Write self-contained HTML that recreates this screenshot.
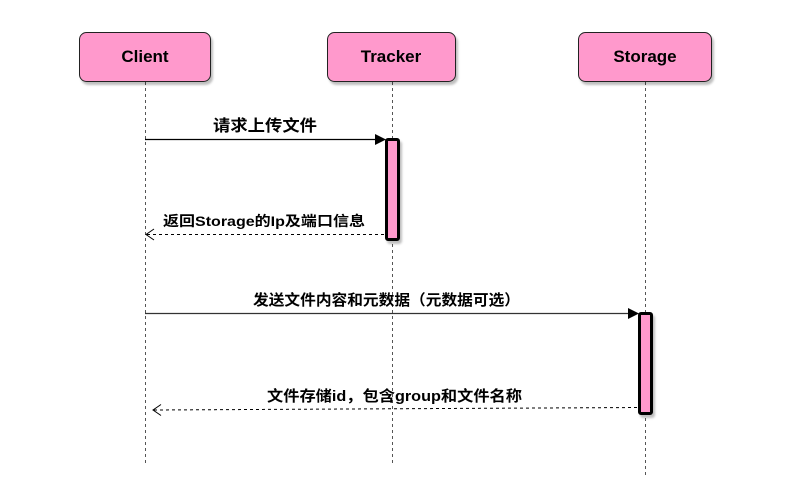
<!DOCTYPE html>
<html><head><meta charset="utf-8"><style>
html,body{margin:0;padding:0;background:#fff;width:811px;height:494px;overflow:hidden}
text{font-family:"Liberation Sans","Noto Sans CJK SC",sans-serif;font-weight:bold;fill:#000}
</style></head><body>
<svg width="811" height="494" xmlns="http://www.w3.org/2000/svg">
<defs>
<filter id="sh" x="-20%" y="-20%" width="140%" height="140%"><feDropShadow dx="2" dy="3" stdDeviation="1" flood-color="#000" flood-opacity="0.25"/></filter>
</defs>
<!-- lifelines -->
<g stroke="#555" stroke-width="1" stroke-dasharray="3,3" fill="none">
<line x1="145.5" y1="82" x2="145.5" y2="463"/>
<line x1="392.5" y1="82" x2="392.5" y2="464"/>
<line x1="645.5" y1="82" x2="645.5" y2="478"/>
</g>
<!-- boxes -->
<g fill="#ff99cc" stroke="#222" stroke-width="1" filter="url(#sh)">
<rect x="79.5" y="32.5" width="131" height="49" rx="7"/>
<rect x="327.5" y="32.5" width="128" height="49" rx="7"/>
<rect x="578.5" y="32.5" width="133" height="49" rx="7"/>
</g>
<text x="145" y="62" font-size="17" text-anchor="middle">Client</text>
<text x="391" y="62" font-size="17" text-anchor="middle">Tracker</text>
<text x="645" y="62" font-size="17" text-anchor="middle">Storage</text>
<!-- activation bars -->
<g fill="#ff99cc" stroke="#000" stroke-width="3" filter="url(#sh)">
<rect x="386.5" y="139.5" width="12" height="100" rx="1.5"/>
<rect x="639.5" y="313.5" width="12" height="100" rx="1.5"/>
</g>
<!-- arrow 1 -->
<line x1="145" y1="139.5" x2="376" y2="139.5" stroke="#000" stroke-width="1.3"/>
<polygon points="375,134 386,139.5 375,145" fill="#000"/>
<text x="213" y="131" font-size="16" textLength="104" lengthAdjust="spacingAndGlyphs">请求上传文件</text>
<!-- return 1 -->
<line x1="147" y1="234.5" x2="385" y2="234.5" stroke="#000" stroke-width="1" stroke-dasharray="3,3"/>
<polyline points="154,229 146,234.5 154,240" fill="none" stroke="#000" stroke-width="1"/>
<text x="163" y="226" font-size="14" textLength="202" lengthAdjust="spacingAndGlyphs">返回Storage的Ip及端口信息</text>
<!-- arrow 2 -->
<line x1="145" y1="313.5" x2="629" y2="313.5" stroke="#333" stroke-width="1.3"/>
<polygon points="628,308 639,313.5 628,319" fill="#000"/>
<text x="253" y="305" font-size="15" textLength="267" lengthAdjust="spacingAndGlyphs">发送文件内容和元数据（元数据可选）</text>
<!-- return 2 -->
<line x1="154" y1="410" x2="638" y2="407.5" stroke="#000" stroke-width="1" stroke-dasharray="3,3"/>
<polyline points="161,404.5 153,410 161,415.5" fill="none" stroke="#000" stroke-width="1"/>
<text x="267" y="401" font-size="15" textLength="255" lengthAdjust="spacingAndGlyphs">文件存储id，包含group和文件名称</text>
</svg>
</body></html>
